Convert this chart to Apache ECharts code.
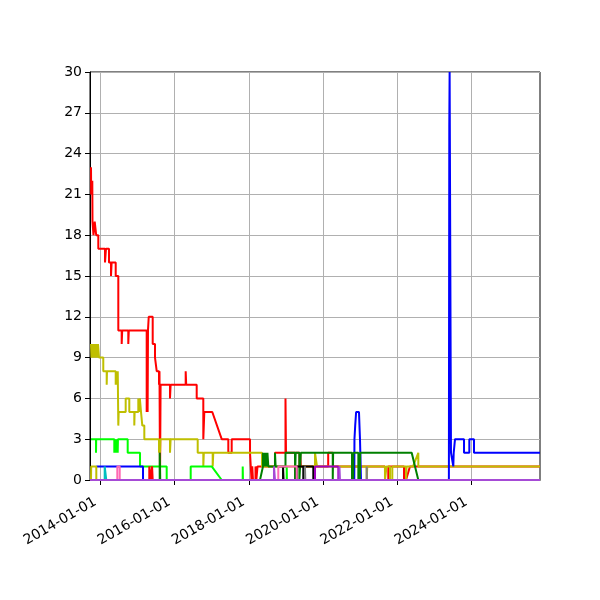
<!DOCTYPE html>
<html>
<head>
<meta charset="utf-8">
<script src="https://cdn.jsdelivr.net/npm/echarts@6/dist/echarts.min.js"></script>
<style>
  html, body { margin: 0; padding: 0; background: #fff; }
  #main { width: 600px; height: 600px; }
</style>
</head>
<body>
<div id="main"></div>
<script>
// x values are decimal years, y values are counts

// x axis range and tick positions
var xMin = 2013.717;
var xMax = 2025.846;
var xTicks = [2014, 2016, 2018, 2020, 2022, 2024];

// main red line
var redMain = [
  [2013.744, 23], [2013.749, 21], [2013.779, 22], [2013.784, 19], [2013.806, 19], [2013.811, 18],
  [2013.838, 18], [2013.844, 19], [2013.879, 19], [2013.884, 18], [2013.941, 18], [2013.941, 17],
  [2014.121, 17], [2014.121, 16], [2014.148, 16], [2014.148, 17], [2014.229, 17], [2014.229, 16],
  [2014.283, 16], [2014.283, 15], [2014.30, 15], [2014.30, 16], [2014.410, 16], [2014.410, 15],
  [2014.480, 15], [2014.480, 11], [2014.571, 11], [2014.571, 10], [2014.585, 10], [2014.585, 11],
  [2014.749, 11], [2014.749, 10], [2014.763, 10], [2014.763, 11], [2015.245, 11], [2015.245, 5],
  [2015.255, 11], [2015.27, 5], [2015.28, 11], [2015.30, 11], [2015.30, 12], [2015.407, 12],
  [2015.407, 10], [2015.469, 10], [2015.469, 9], [2015.515, 9], [2015.515, 8], [2015.577, 8],
  [2015.577, 7], [2015.59, 8], [2015.604, 8], [2015.604, 0], [2015.615, 0], [2015.62, 7],
  [2015.873, 7], [2015.873, 6], [2015.89, 6], [2015.89, 7], [2016.296, 7], [2016.296, 8],
  [2016.31, 8], [2016.31, 7], [2016.593, 7], [2016.593, 6], [2016.771, 6], [2016.771, 3],
  [2016.785, 3], [2016.798, 5], [2017.013, 5], [2017.267, 3], [2017.445, 3], [2017.445, 2],
  [2017.536, 2], [2017.536, 3], [2018.030, 3], [2018.030, 2], [2018.070, 2], [2018.070, 0],
  [2018.09, 1], [2018.11, 1], [2018.11, 0], [2018.178, 0], [2018.178, 1], [2018.20, 1],
  [2018.20, 0], [2018.232, 0], [2018.232, 1], [2018.703, 1], [2018.703, 2], [2018.986, 2],
  [2018.986, 6], [2019.0, 6], [2019.0, 2], [2019.364, 2], [2019.364, 1], [2019.38, 1],
  [2019.38, 2], [2019.40, 2], [2019.40, 1], [2020.137, 1], [2020.137, 2], [2020.267, 2],
  [2020.267, 1], [2021.668, 1], [2021.668, 0], [2021.757, 0], [2021.757, 1], [2022.181, 1],
  [2022.181, 0], [2022.235, 0], [2022.342, 1], [2025.846, 1]
];

// olive line
var yellowMain = [
  [2013.744, 10], [2013.757, 9], [2013.771, 10], [2013.784, 9], [2013.798, 10], [2013.811, 9],
  [2013.825, 10], [2013.838, 9], [2013.852, 10], [2013.866, 9], [2013.879, 10], [2013.893, 9],
  [2013.906, 10], [2013.92, 9], [2013.933, 10], [2013.96, 10], [2013.96, 9], [2014.075, 9],
  [2014.075, 8], [2014.167, 8], [2014.167, 7], [2014.175, 7], [2014.175, 8], [2014.410, 8],
  [2014.410, 7], [2014.43, 8], [2014.45, 7], [2014.465, 8], [2014.480, 8], [2014.480, 4],
  [2014.49, 4], [2014.49, 5], [2014.679, 5], [2014.679, 6], [2014.776, 6], [2014.776, 5],
  [2014.911, 5], [2014.911, 4], [2014.92, 4], [2014.92, 5], [2015.019, 5], [2015.019, 6],
  [2015.04, 5], [2015.06, 6], [2015.092, 6], [2015.092, 5], [2015.11, 5], [2015.127, 4],
  [2015.181, 4], [2015.181, 3], [2015.577, 3], [2015.577, 2], [2015.59, 3], [2015.604, 2],
  [2015.615, 3], [2015.873, 3], [2015.873, 2], [2015.89, 2], [2015.89, 3], [2016.620, 3],
  [2016.620, 2], [2016.771, 2], [2016.771, 1], [2016.785, 1], [2016.785, 2], [2017.024, 2],
  [2017.024, 1], [2017.04, 1], [2017.04, 2], [2018.353, 2], [2018.353, 1], [2019.782, 1],
  [2019.782, 2], [2019.835, 2], [2019.835, 1], [2021.175, 1], [2021.175, 0], [2021.19, 0],
  [2021.19, 1], [2021.668, 1], [2021.668, 0], [2021.71, 0], [2021.71, 1], [2021.803, 1],
  [2021.803, 0], [2021.865, 0], [2021.865, 1], [2022.235, 1], [2022.235, 0], [2022.25, 0],
  [2022.25, 1], [2022.423, 1], [2022.566, 2], [2022.566, 1], [2025.846, 1]
];

var limeLine = [
  [2013.744, 3], [2013.879, 3], [2013.879, 2], [2013.884, 3], [2014.372, 3], [2014.372, 2],
  [2014.385, 3], [2014.40, 2], [2014.41, 3], [2014.425, 2], [2014.44, 3], [2014.464, 2],
  [2014.47, 3], [2014.733, 3], [2014.733, 2], [2015.065, 2], [2015.065, 1], [2015.784, 1],
  [2015.784, 0], [2016.431, 0], [2016.431, 1], [2016.997, 1], [2017.267, 0], [2017.833, 0],
  [2017.833, 1], [2017.84, 0], [2019.019, 0], [2019.019, 1], [2019.025, 0], [2025.846, 0]
];

var blueLine = [
  [2013.887, 1], [2015.146, 1], [2015.146, 0], [2020.840, 0], [2020.845, 3], [2020.865, 4],
  [2020.89, 5], [2020.967, 5], [2020.98, 4], [2020.994, 3], [2021.021, 0], [2023.390, 0],
  [2023.401, 26], [2023.41, 30], [2023.44, 30], [2023.447, 2], [2023.49, 2], [2023.509, 1],
  [2023.52, 2], [2023.555, 2], [2023.555, 3], [2023.798, 3], [2023.798, 2], [2023.941, 2],
  [2023.941, 3], [2024.067, 3], [2024.067, 2], [2025.846, 2]
];

var greenLine = [
  [2015.596, 0], [2015.596, 2], [2015.61, 2], [2015.61, 0], [2018.299, 0], [2018.38, 1],
  [2018.38, 2], [2018.40, 1], [2018.42, 2], [2018.44, 1], [2018.46, 2], [2018.48, 1],
  [2018.50, 2], [2018.523, 1], [2018.703, 1], [2018.703, 2], [2018.72, 2], [2018.72, 1],
  [2018.986, 1], [2018.986, 2], [2019.243, 2], [2019.243, 0], [2019.26, 0], [2019.26, 2],
  [2019.36, 2], [2019.36, 0], [2019.39, 0], [2019.40, 2], [2020.26, 2], [2020.26, 0],
  [2020.27, 0], [2020.27, 2], [2020.779, 2], [2020.779, 0], [2020.80, 2], [2020.81, 0],
  [2020.814, 2], [2020.95, 2], [2020.95, 0], [2020.97, 2], [2020.99, 0], [2021.0, 2],
  [2022.388, 2], [2022.566, 0]
];

var blackLine = [
  [2018.92, 0], [2018.92, 1], [2018.935, 1], [2018.935, 0], [2019.288, 0], [2019.288, 1],
  [2019.466, 1], [2019.466, 0], [2019.475, 0], [2019.475, 1], [2019.736, 1], [2019.736, 0]
];

var pinkLine = [
  [2014.453, 0], [2014.453, 1], [2014.518, 1], [2014.518, 0], [2018.792, 0], [2018.792, 1],
  [2019.288, 1], [2019.288, 0]
];

var magentaLine = [
  [2019.782, 0], [2019.782, 1], [2020.410, 1], [2020.410, 0]
];

var cyanLine = [
  [2014.113, 0], [2014.113, 1], [2014.156, 1], [2014.156, 0]
];

var redSmall = [
  [2015.315, 0], [2015.315, 1], [2015.35, 1], [2015.35, 0], [2015.39, 0], [2015.39, 1],
  [2015.407, 1], [2015.407, 0]
];

var yellowSmall = [
  [2013.744, 0], [2013.749, 1], [2013.887, 1], [2013.887, 0]
];

var grayLine = [
  [2019.51, 0], [2019.51, 1], [2019.52, 1], [2019.52, 0], [2021.175, 0], [2021.175, 1],
  [2021.18, 0]
];

var purpleLine = [
  [2013.717, 0], [2018.676, 0], [2018.676, 1], [2018.703, 1], [2018.703, 0], [2020.44, 0],
  [2020.44, 1], [2020.455, 1], [2020.455, 0], [2025.846, 0]
];

var seriesList = [
  { data: redMain, color: '#ff0000' },
  { data: yellowMain, color: '#bfbf00' },
  { data: limeLine, color: '#00ff00' },
  { data: blueLine, color: '#0000ff' },
  { data: greenLine, color: '#008000' },
  { data: blackLine, color: '#000000' },
  { data: pinkLine, color: '#ff69b4' },
  { data: magentaLine, color: '#a000c0' },
  { data: cyanLine, color: '#00bfbf' },
  { data: redSmall, color: '#ff0000' },
  { data: yellowSmall, color: '#bfbf00' },
  { data: grayLine, color: '#808080' },
  { data: purpleLine, color: '#a64bd6' }
];

var font = 'DejaVu Sans';

var myChart = echarts.init(document.getElementById('main'));

var option = {
  animation: false,
  backgroundColor: '#fff',
  grid: {
    left: 90, top: 72, width: 450, height: 408,
    show: true, borderColor: '#000', borderWidth: 1, backgroundColor: 'transparent'
  },
  xAxis: {
    type: 'value',
    min: xMin,
    max: xMax,
    axisLine: { show: true, onZero: false, lineStyle: { color: '#000', width: 1 } },
    axisTick: { show: true, length: 5, lineStyle: { color: '#000' }, customValues: xTicks },
    axisLabel: {
      customValues: xTicks,
      rotate: 30,
      margin: 18,
      padding: [0, 6, 0, 0],
      color: '#000',
      fontFamily: font,
      fontSize: 14,
      formatter: function (v) { return Math.round(v) + '-01-01'; }
    },
    splitLine: { show: true, lineStyle: { color: '#b0b0b0', width: 1 } }
  },
  yAxis: {
    type: 'value',
    min: 0,
    max: 30,
    interval: 3,
    axisLine: { show: true, lineStyle: { color: '#000', width: 1 } },
    axisTick: { show: true, length: 5, lineStyle: { color: '#000' } },
    axisLabel: { color: '#000', fontFamily: font, fontSize: 14, margin: 8 },
    splitLine: { show: true, lineStyle: { color: '#b0b0b0', width: 1 } }
  },
  series: seriesList.map(function (s) {
    return {
      type: 'line',
      data: s.data,
      showSymbol: false,
      symbol: 'none',
      lineStyle: { color: s.color, width: 2 },
      itemStyle: { color: s.color }
    };
  })
};

myChart.setOption(option);
</script>
</body>
</html>
